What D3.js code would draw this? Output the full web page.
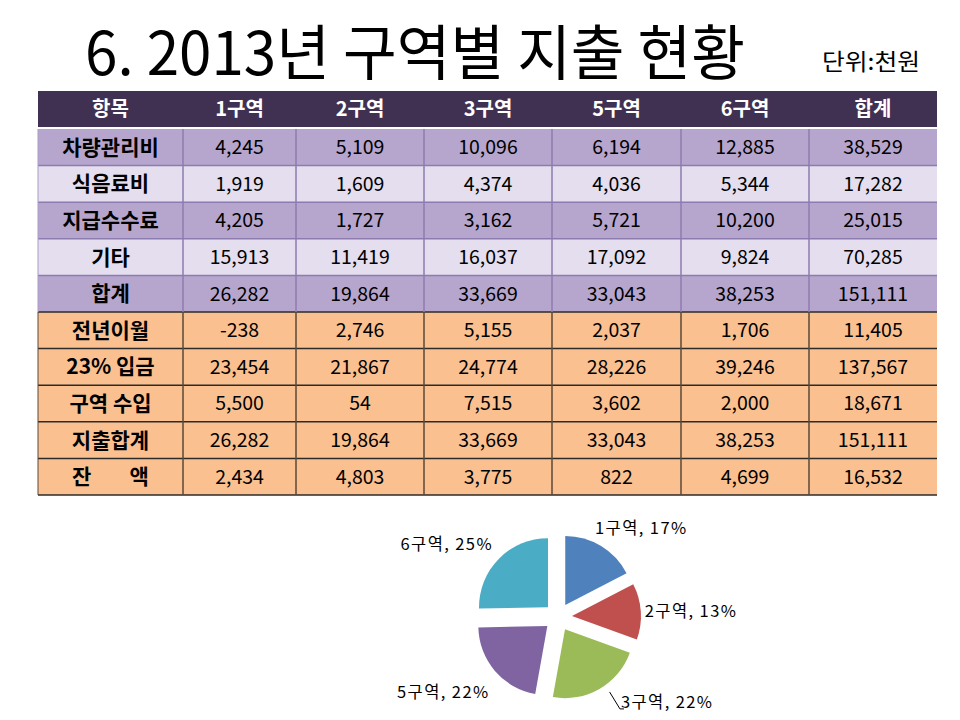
<!DOCTYPE html>
<html><head><meta charset="utf-8">
<script src="https://cdn.jsdelivr.net/npm/d3@7"></script>
<style>
html,body{margin:0;padding:0;background:#fff;}
svg{display:block;}
</style></head>
<body>
<script>
// ---------- DATA ----------
const titleText = "6. 2013년 구역별 지출 현황";
const unitText = "단위:천원";
const columns = ["항목", "1구역", "2구역", "3구역", "5구역", "6구역", "합계"];
const expenseLabels = ["차량관리비", "식음료비", "지급수수료", "기타", "합계"];
const vehicleCost = [4245, 5109, 10096, 6194, 12885, 38529];
const foodCost = [1919, 1609, 4374, 4036, 5344, 17282];
const feeCost = [4205, 1727, 3162, 5721, 10200, 25015];
const otherCost = [15913, 11419, 16037, 17092, 9824, 70285];
const expenseTotal = [26282, 19864, 33669, 33043, 38253, 151111];
const balanceLabels = ["전년이월", "23% 입금", "구역 수입", "지출합계", "잔        액"];
const carryOver = [-238, 2746, 5155, 2037, 1706, 11405];
const deposit23 = [23454, 21867, 24774, 28226, 39246, 137567];
const regionIncome = [5500, 54, 7515, 3602, 2000, 18671];
const spendTotal = [26282, 19864, 33669, 33043, 38253, 151111];
const remaining = [2434, 4803, 3775, 822, 4699, 16532];
const pieRegions = ["1구역", "2구역", "3구역", "5구역", "6구역"];
const pieValues = expenseTotal.slice(0, 5);

// ---------- LAYOUT ----------
const W = 960, H = 720;
const colWeights = [145, 113, 128, 128, 129, 128, 128];
const tableLeft = 38, headerTop = 91, headerH = 36, bodyTop = 129, bodyBottom = 495;
const pieColors = ["#4F81BD", "#C0504D", "#9BBB59", "#8064A2", "#4BACC6"];
const fontKR = "'Noto Sans CJK KR','Noto Sans',sans-serif";

const svg = d3.select("body").append("svg").attr("width", W).attr("height", H);

// Title
svg.append("text").attr("x", 85).attr("y", 75)
  .attr("font-family", fontKR).attr("font-size", 60).attr("font-weight", 400)
  .attr("textLength", 660).attr("lengthAdjust", "spacingAndGlyphs")
  .attr("fill", "#000").text(titleText);
svg.append("text").attr("x", 822).attr("y", 70)
  .attr("font-family", fontKR).attr("font-size", 23)
  .attr("textLength", 98).attr("lengthAdjust", "spacingAndGlyphs")
  .attr("fill", "#000").text(unitText);

// Column scale from cumulative widths
const colEdges = [tableLeft];
colWeights.forEach(w => colEdges.push(colEdges[colEdges.length - 1] + w));
const xCol = d3.scaleOrdinal().domain(columns).range(colEdges.slice(0, -1));
const colW = d3.scaleOrdinal().domain(columns).range(colWeights);
const tableRight = colEdges[colEdges.length - 1];

const rows = [
  { label: expenseLabels[0], values: vehicleCost, group: "exp" },
  { label: expenseLabels[1], values: foodCost, group: "exp" },
  { label: expenseLabels[2], values: feeCost, group: "exp" },
  { label: expenseLabels[3], values: otherCost, group: "exp" },
  { label: expenseLabels[4], values: expenseTotal, group: "exp" },
  { label: balanceLabels[0], values: carryOver, group: "bal" },
  { label: balanceLabels[1], values: deposit23, group: "bal" },
  { label: balanceLabels[2], values: regionIncome, group: "bal" },
  { label: balanceLabels[3], values: spendTotal, group: "bal" },
  { label: balanceLabels[4], values: remaining, group: "bal" }
];
const yRow = d3.scaleBand().domain(d3.range(rows.length)).range([bodyTop, bodyBottom]);
const fmt = d3.formatLocale({ decimal: ".", thousands: ",", grouping: [3], currency: ["", ""], minus: "-" }).format(",");

// Header
svg.append("rect").attr("x", tableLeft).attr("y", headerTop)
  .attr("width", tableRight - tableLeft).attr("height", headerH).attr("fill", "#403152");
svg.selectAll("text.hdr").data(columns).join("text").attr("class", "hdr")
  .attr("x", d => xCol(d) + colW(d) / 2).attr("y", headerTop + headerH / 2 + 7)
  .attr("text-anchor", "middle").attr("font-family", fontKR)
  .attr("font-size", 20).attr("font-weight", 700).attr("fill", "#fff").text(d => d);

// Body rows
const rowFill = (r, i) => r.group === "bal" ? "#FAC090" : (i % 2 === 0 ? "#B6A6CE" : "#E4DEEE");
const gRows = svg.selectAll("g.row").data(rows).join("g").attr("class", "row")
  .attr("transform", (r, i) => `translate(0,${yRow(i)})`);
gRows.append("rect").attr("x", tableLeft).attr("y", 0)
  .attr("width", tableRight - tableLeft).attr("height", yRow.bandwidth())
  .attr("fill", (r, i) => rowFill(r, i));
gRows.append("text")
  .attr("x", xCol(columns[0]) + colW(columns[0]) / 2)
  .attr("y", yRow.bandwidth() / 2 + 7.5)
  .attr("text-anchor", "middle").attr("font-family", fontKR)
  .attr("font-size", 21).attr("font-weight", 700).attr("fill", "#000")
  .style("white-space", "pre").text(r => r.label);
gRows.each(function (r) {
  d3.select(this).selectAll("text.val").data(r.values).join("text").attr("class", "val")
    .attr("x", (v, j) => xCol(columns[j + 1]) + colW(columns[j + 1]) / 2)
    .attr("y", yRow.bandwidth() / 2 + 7)
    .attr("text-anchor", "middle").attr("font-family", fontKR)
    .attr("font-size", 19.5).attr("fill", "#000").text(v => fmt(v));
});

// Grid lines
const expTop = yRow(0), expBottom = yRow(4) + yRow.bandwidth();
const balTop = yRow(5), balBottom = yRow(9) + yRow.bandwidth();
d3.range(1, rows.length + 1).forEach(i => {
  const y = i === rows.length ? balBottom : yRow(i);
  svg.append("line").attr("x1", tableLeft).attr("x2", tableRight)
    .attr("y1", y).attr("y2", y)
    .attr("stroke", i >= 5 ? "#2b2b2b" : "#8C7BAE").attr("stroke-width", 1.5);
});
colEdges.slice(1, -1).forEach(x => {
  svg.append("line").attr("x1", x).attr("x2", x).attr("y1", expTop).attr("y2", expBottom)
    .attr("stroke", "#8C7BAE").attr("stroke-width", 1.5);
  svg.append("line").attr("x1", x).attr("x2", x).attr("y1", balTop).attr("y2", balBottom)
    .attr("stroke", "#5a4838").attr("stroke-width", 1.5);
});
svg.append("line").attr("x1", tableLeft).attr("x2", tableLeft).attr("y1", balTop).attr("y2", balBottom)
  .attr("stroke", "#5a4838").attr("stroke-width", 1);
svg.append("line").attr("x1", tableLeft).attr("x2", tableLeft).attr("y1", expTop).attr("y2", expBottom)
  .attr("stroke", "#A99BC6").attr("stroke-width", 1);
svg.append("line").attr("x1", tableLeft).attr("x2", tableRight)
  .attr("y1", headerTop + headerH + 1).attr("y2", headerTop + headerH + 1)
  .attr("stroke", "#fff").attr("stroke-width", 2);

// ---------- PIE ----------
const cx = 558, cy = 617, R = 69, explode = 14;
const pie = d3.pie().sort(null).value(d => d.v);
const arcs = pie(pieRegions.map((r, i) => ({ r, v: pieValues[i] })));
const arc = d3.arc().innerRadius(0).outerRadius(R);
const total = d3.sum(pieValues);
const gPie = svg.append("g").attr("transform", `translate(${cx},${cy})`);
const mid = d => (d.startAngle + d.endAngle) / 2;
gPie.selectAll("path").data(arcs).join("path")
  .attr("d", arc)
  .attr("transform", d => `translate(${explode * Math.sin(mid(d))},${-explode * Math.cos(mid(d))})`)
  .attr("fill", (d, i) => pieColors[i]);

// Label placement (polar radius + nudge, layout only)
const labelRadius = [104, 87, 98, 115, 105];
const labelNudge = [[-17, 0], [0, 0], [14, 0], [19, 0], [10, 0]];
const labelAnchor = ["start", "start", "start", "end", "end"];
arcs.forEach((d, i) => {
  const a = mid(d);
  const lx = labelRadius[i] * Math.sin(a) + labelNudge[i][0];
  const ly = -labelRadius[i] * Math.cos(a) + labelNudge[i][1];
  gPie.append("text").attr("x", lx).attr("y", ly + 6)
    .attr("text-anchor", labelAnchor[i]).attr("font-family", fontKR)
    .attr("font-size", 16.5).attr("font-weight", 400).attr("letter-spacing", 1.4)
    .attr("fill", "#000")
    .text(`${d.data.r}, ${Math.round(d.data.v / total * 100)}%`);
  if (i === 2) {
    const ra = R + explode + 8, aa = a - 0.08;
    const ex = ra * Math.sin(aa), ey = -ra * Math.cos(aa);
    gPie.append("polyline")
      .attr("points", `${ex},${ey} ${lx - 1},${ly + 7} ${lx + 3},${ly + 7}`)
      .attr("fill", "none").attr("stroke", "#000").attr("stroke-width", 1);
  }
});
</script>
</body></html>
